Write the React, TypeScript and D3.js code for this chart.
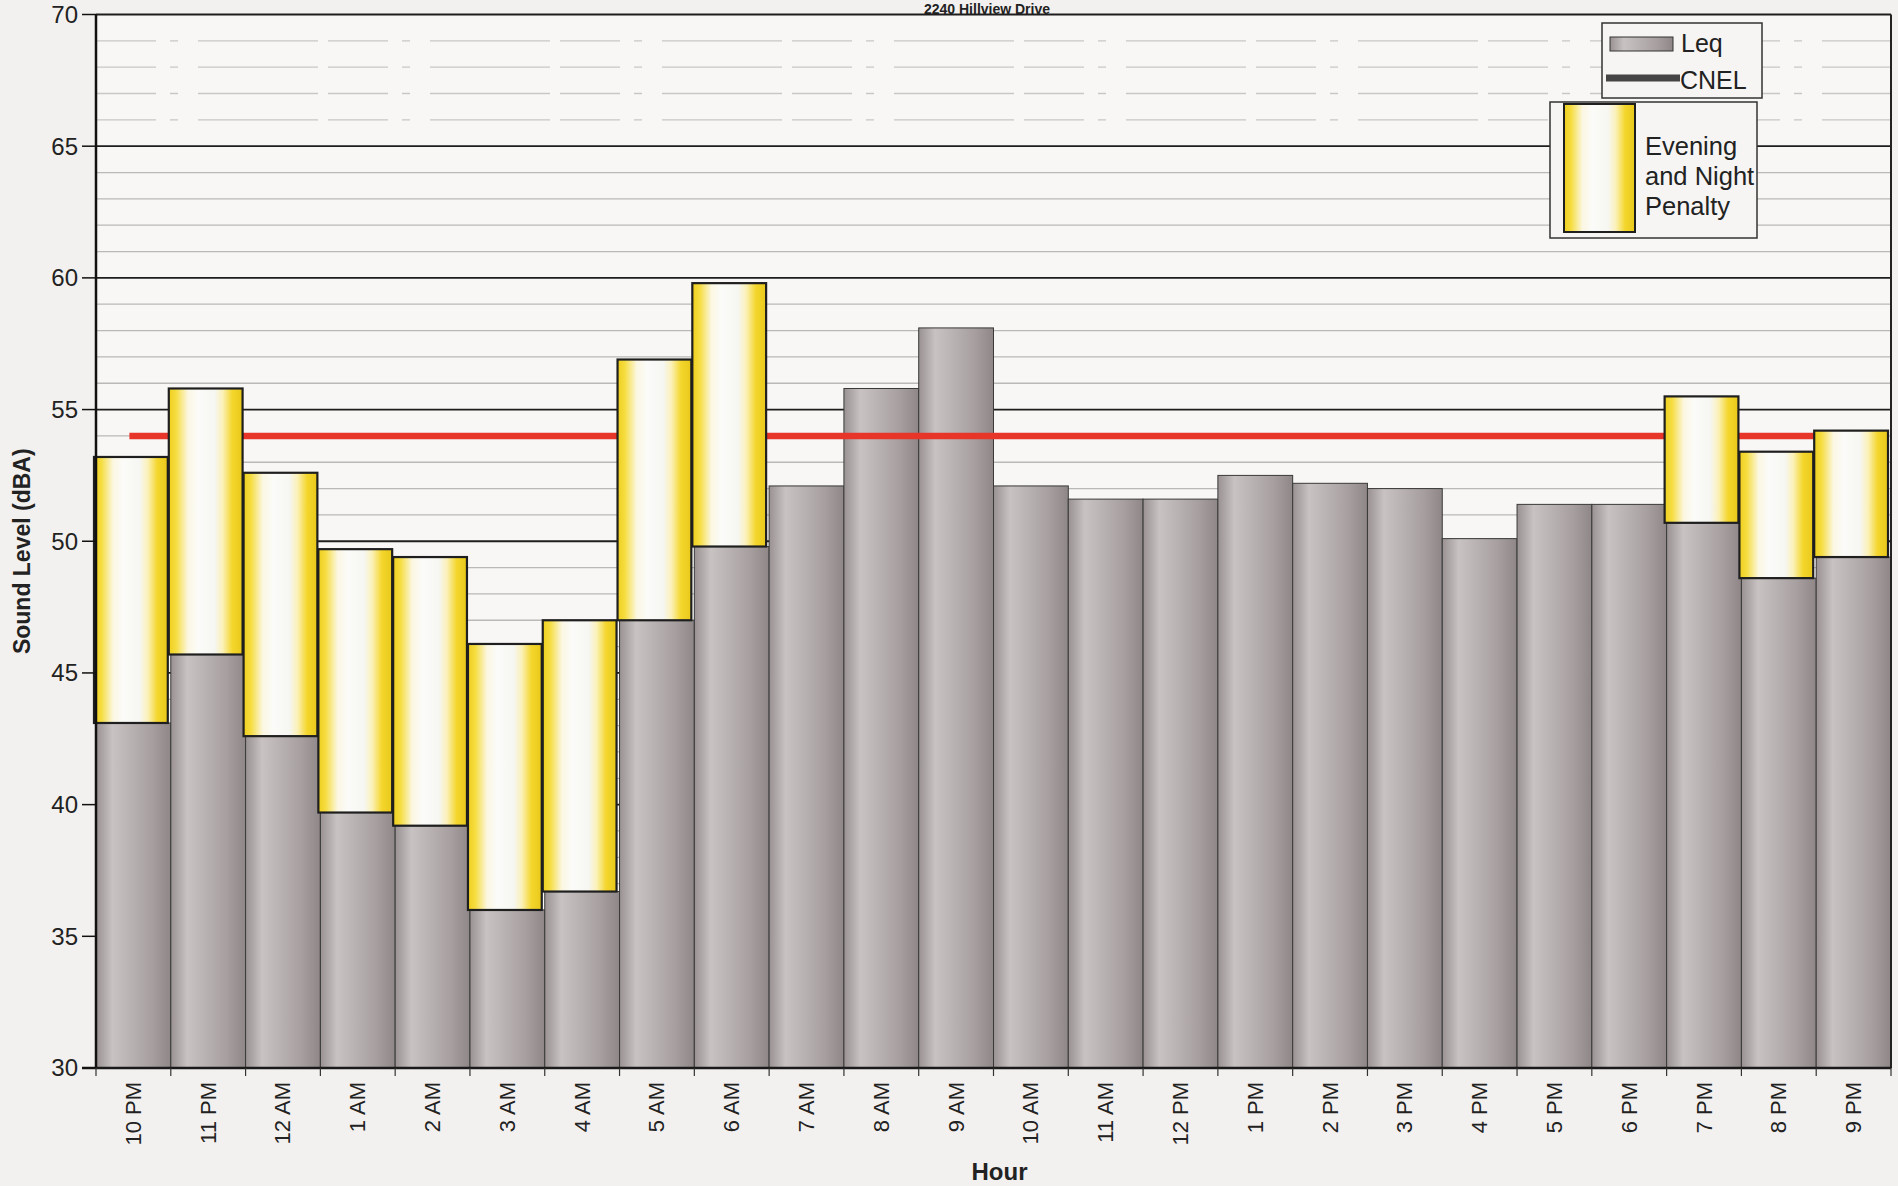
import React from "react";
import * as d3 from "d3";

const categories = ["10 PM","11 PM","12 AM","1 AM","2 AM","3 AM","4 AM","5 AM","6 AM","7 AM","8 AM","9 AM","10 AM","11 AM","12 PM","1 PM","2 PM","3 PM","4 PM","5 PM","6 PM","7 PM","8 PM","9 PM"];
const leq = [43.1,45.7,42.6,39.7,39.2,36.0,36.7,47.0,49.8,52.1,55.8,58.1,52.1,51.6,51.6,52.5,52.2,52.0,50.1,51.4,51.4,50.7,48.6,49.4];
const weighted: (number | null)[] = [53.2,55.8,52.6,49.7,49.4,46.1,47.0,56.9,59.8,null,null,null,null,null,null,null,null,null,null,null,null,55.5,53.4,54.2];
const cnel = 54.0;
const yTicks = [30,35,40,45,50,55,60,65,70];
const title = "2240 Hillview Drive";

const W = 1898, H = 1186;
const L = 96, R = 1891, T = 14.5, B = 1068;
const FONT = "'Liberation Sans', Arial, Helvetica, sans-serif";

export default function App() {
  const x = d3.scaleBand<string>().domain(categories).range([L, R]).padding(0);
  const y = d3.scaleLinear().domain([30, 70]).range([B, T]);
  const minor = d3.range(31, 70).filter((v) => v % 5 !== 0);
  const bw = x.bandwidth();
  return (
    <svg width={W} height={H} style={{ position: "absolute", left: 0, top: 0, display: "block" }} fontFamily={FONT}>
      <defs>
        <linearGradient id="barGrad" x1="0" x2="1" y1="0" y2="0">
          <stop offset="0%" stopColor="#999192" />
          <stop offset="22%" stopColor="#c8c2c2" />
          <stop offset="42%" stopColor="#bcb5b5" />
          <stop offset="75%" stopColor="#a69e9f" />
          <stop offset="100%" stopColor="#8e8687" />
        </linearGradient>
        <linearGradient id="penGrad" x1="0" x2="1" y1="0" y2="0">
          <stop offset="0%" stopColor="#efcf1e" />
          <stop offset="10%" stopColor="#f6dd40" />
          <stop offset="26%" stopColor="#fbf7e2" />
          <stop offset="40%" stopColor="#fbfbf9" />
          <stop offset="62%" stopColor="#f6f6f2" />
          <stop offset="73%" stopColor="#fbf1b8" />
          <stop offset="86%" stopColor="#f4d62c" />
          <stop offset="100%" stopColor="#e8c81a" />
        </linearGradient>
      </defs>
      <rect x={0} y={0} width={W} height={H} fill="#f3f1ef" />
      <rect x={L} y={T} width={R - L} height={B - T} fill="#f8f7f5" />
      <text x={987} y={13.5} textAnchor="middle" fontSize={14} fontWeight="bold" fill="#222">{title}</text>

      {/* minor gridlines */}
      {minor.map((v) => (
        <line key={"m" + v} x1={L} x2={R} y1={y(v)} y2={y(v)} stroke={v > 65 ? "#c8c8c8" : "#b9b9b9"} strokeWidth={1.3}
          strokeDasharray={v > 65 ? "60 14 8 20 120 10" : undefined} />
      ))}
      {/* major gridlines */}
      {yTicks.filter((v) => v > 30).map((v) => (
        <line key={"M" + v} x1={L} x2={R} y1={y(v)} y2={y(v)} stroke="#1e1e1e" strokeWidth={1.8} />
      ))}

      {/* Leq bars */}
      {categories.map((c, i) => (
        <rect key={"b" + c} x={x(c)} y={y(leq[i])} width={bw} height={B - y(leq[i])} fill="url(#barGrad)" stroke="#3a3a3a" strokeWidth={1} />
      ))}

      {/* CNEL line */}
      <line x1={(x(categories[0]) as number) + bw / 2 - 4} x2={(x(categories[categories.length - 1]) as number) + bw / 2}
        y1={y(cnel)} y2={y(cnel)} stroke="#e8352a" strokeWidth={6.5} />

      {/* penalty boxes */}
      {categories.map((c, i) => {
        const w = weighted[i];
        if (w == null) return null;
        return (
          <rect key={"p" + c} x={(x(c) as number) - 2} y={y(w)} width={bw - 1} height={y(leq[i]) - y(w)}
            fill="url(#penGrad)" stroke="#1f1f1f" strokeWidth={2.2} />
        );
      })}

      {/* axes */}
      <line x1={L} x2={L} y1={T} y2={B} stroke="#111" strokeWidth={2.5} />
      <line x1={R} x2={R} y1={T} y2={B} stroke="#222" strokeWidth={2} />
      <line x1={L - 14} x2={R} y1={B} y2={B} stroke="#1a1a1a" strokeWidth={2.5} />
      {yTicks.map((v) => (
        <g key={"yt" + v}>
          <line x1={L - 14} x2={L} y1={y(v)} y2={y(v)} stroke="#111" strokeWidth={1.5} />
          <text x={78} y={y(v)} dy="0.35em" textAnchor="end" fontSize={24} fill="#222">{v}</text>
        </g>
      ))}
      {[...categories.map((c) => x(c) as number), R].map((xx, i) => (
        <line key={"xt" + i} x1={xx} x2={xx} y1={B} y2={B + 8} stroke="#333" strokeWidth={1.2} />
      ))}
      {categories.map((c) => {
        const cx = (x(c) as number) + bw / 2;
        return (
          <text key={"xl" + c} transform={`translate(${cx},${1082}) rotate(-90)`} textAnchor="end" dominantBaseline="central"
            fontSize={22} fill="#222">{c}</text>
        );
      })}
      <text x={(L + R) / 2 + 6} y={1180} textAnchor="middle" fontSize={24} fontWeight="bold" fill="#222">Hour</text>
      <text transform={`translate(22,${(T + B) / 2 + 10}) rotate(-90)`} textAnchor="middle" dominantBaseline="central"
        fontSize={23} fontWeight="bold" fill="#222">Sound Level (dBA)</text>

      {/* legend */}
      <rect x={1602} y={23} width={160} height={75} fill="#f6f5f3" stroke="#333" strokeWidth={1.5} />
      <rect x={1610} y={37} width={63} height={14} fill="url(#barGrad)" stroke="#333" strokeWidth={1} />
      <text x={1681} y={52} fontSize={25} fill="#222">Leq</text>
      <line x1={1606} x2={1680} y1={78} y2={78} stroke="#454545" strokeWidth={7} />
      <text x={1680} y={89} fontSize={25} fill="#222">CNEL</text>

      <rect x={1550} y={102} width={207} height={136} fill="#f6f5f3" stroke="#333" strokeWidth={1.5} />
      <rect x={1564} y={104} width={71} height={128} fill="url(#penGrad)" stroke="#1f1f1f" strokeWidth={2} />
      <text x={1645} y={155} fontSize={25.5} fill="#222">Evening</text>
      <text x={1645} y={185} fontSize={25.5} fill="#222">and Night</text>
      <text x={1645} y={215} fontSize={25.5} fill="#222">Penalty</text>
    </svg>
  );
}
